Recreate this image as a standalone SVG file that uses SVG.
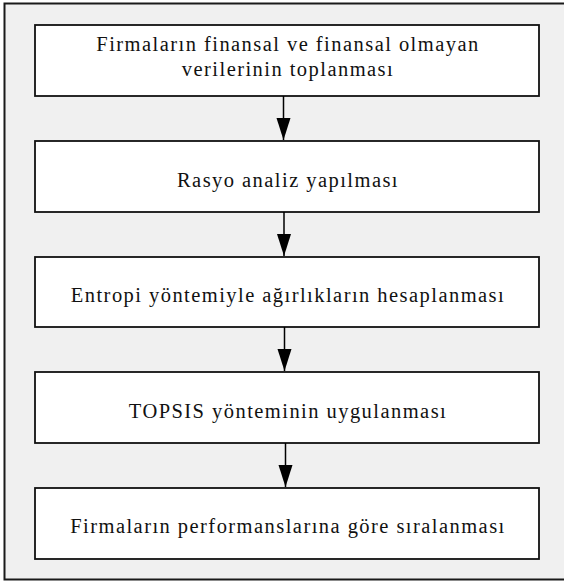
<svg xmlns="http://www.w3.org/2000/svg" width="564" height="582" viewBox="0 0 564 582">
<style>
.box{fill:#ffffff;stroke:#111111;stroke-width:1.8}
.t{font-family:"Liberation Serif","Times New Roman",serif;font-size:20.5px;letter-spacing:1.45px;fill:#111111;text-anchor:middle}
.conn{stroke:#000;stroke-width:1.5;fill:none}
</style>
<defs>
<marker id="ah" markerUnits="userSpaceOnUse" markerWidth="24" markerHeight="16" refX="22" refY="7" orient="auto">
<path d="M0,0 L22,7 L0,14 Z" fill="#000"/>
</marker>
</defs>
<rect x="4.5" y="3.5" width="570" height="576" fill="#f0f0f0" stroke="#1a1a1a" stroke-width="2"/>
<g id="n1">
<rect class="box" x="35" y="25" width="504" height="71"/>
<text class="t" x="288" y="51">Firmaların finansal ve finansal olmayan</text>
<text class="t" x="288" y="76">verilerinin toplanması</text>
</g>
<g id="n2">
<rect class="box" x="35" y="141" width="504" height="71"/>
<text class="t" x="288" y="187">Rasyo analiz yapılması</text>
</g>
<g id="n3">
<rect class="box" x="35" y="257" width="504" height="70"/>
<text class="t" x="288" y="302">Entropi yöntemiyle ağırlıkların hesaplanması</text>
</g>
<g id="n4">
<rect class="box" x="35" y="372" width="504" height="71"/>
<text class="t" x="288" y="418">TOPSIS yönteminin uygulanması</text>
</g>
<g id="n5">
<rect class="box" x="35" y="488" width="504" height="71"/>
<text class="t" x="288" y="533">Firmaların performanslarına göre sıralanması</text>
</g>
<g id="connectors">
<line class="conn" x1="283.5" y1="96" x2="283.5" y2="140" marker-end="url(#ah)"/>
<line class="conn" x1="284" y1="212" x2="284" y2="256" marker-end="url(#ah)"/>
<line class="conn" x1="284.5" y1="327" x2="284.5" y2="371" marker-end="url(#ah)"/>
<line class="conn" x1="285.5" y1="443" x2="285.5" y2="487" marker-end="url(#ah)"/>
</g>
</svg>
